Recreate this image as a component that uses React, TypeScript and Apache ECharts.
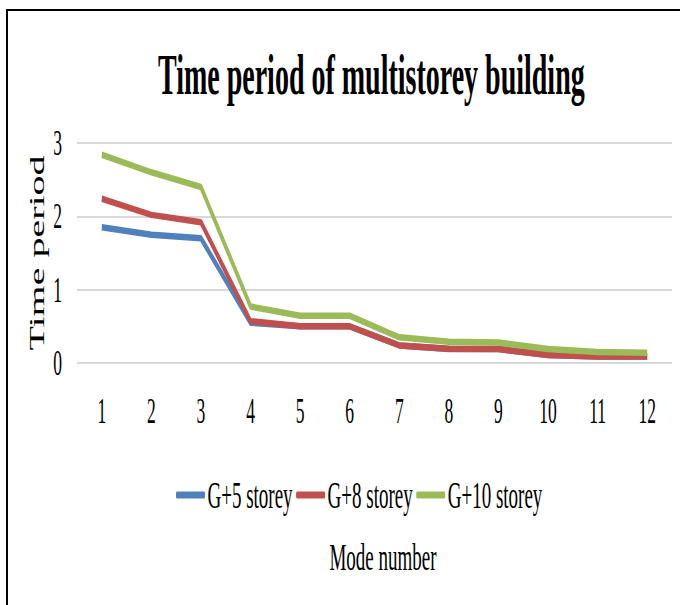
import React, { useEffect, useRef } from "react";
import * as echarts from "echarts";

const modes = ["1", "2", "3", "4", "5", "6", "7", "8", "9", "10", "11", "12"];
const g5 = [1.85, 1.75, 1.7, 0.55, 0.5, 0.5, 0.24, 0.19, 0.19, 0.11, 0.09, 0.09];
const g8 = [2.24, 2.02, 1.92, 0.57, 0.5, 0.5, 0.24, 0.195, 0.19, 0.11, 0.09, 0.09];
const g10 = [2.84, 2.6, 2.4, 0.77, 0.645, 0.645, 0.35, 0.29, 0.28, 0.19, 0.15, 0.14];
const seriesNames = ["G+5 storey", "G+8 storey", "G+10 storey"];
const colors = ["#4F81BD", "#C0504D", "#9BBB59"];
const yTicks = [0, 1, 2, 3];

const SQUISH = 0.5;
const W = 680 / SQUISH;
const H = 605;
const FONT = "'Liberation Serif', 'Times New Roman', serif";

export default function App() {
  const ref = useRef<HTMLDivElement>(null);
  useEffect(() => {
    if (!ref.current) return;
    const chart = echarts.init(ref.current, undefined, { renderer: "svg" });
    const data = [g5, g8, g10];
    chart.setOption({
      animation: false,
      backgroundColor: "transparent",
      textStyle: { fontFamily: FONT, color: "#000" },
      title: {
        text: "Time period of multistorey building",
        left: 316,
        top: 48,
        padding: 0,
        textStyle: { fontFamily: FONT, fontSize: 56, fontWeight: "bold", color: "#000" },
      },
      legend: {
        data: seriesNames,
        left: 352,
        top: 476,
        padding: 0,
        icon: "roundRect",
        itemWidth: 58,
        itemHeight: 7,
        itemGap: 7,
        textStyle: { fontFamily: FONT, fontSize: 38, fontWeight: "normal", color: "#000" },
      },
      grid: { left: 154, right: 16, top: 143, bottom: 242, containLabel: false },
      xAxis: {
        type: "category",
        data: modes,
        boundaryGap: true,
        axisLine: { show: false },
        axisTick: { show: false },
        axisLabel: { fontFamily: FONT, fontSize: 35, color: "#000", margin: 30 },
      },
      yAxis: {
        type: "value",
        min: yTicks[0],
        max: yTicks[yTicks.length - 1],
        interval: 1,
        name: "Time period",
        nameLocation: "middle",
        nameRotate: 90,
        nameGap: 60,
        nameTextStyle: { fontFamily: FONT, fontSize: 40, fontWeight: "normal", color: "#000" },
        axisLine: { show: false },
        axisTick: { show: false },
        axisLabel: { fontFamily: FONT, fontSize: 35, color: "#000", margin: 30 },
        splitLine: { lineStyle: { color: "#D9D9D9", width: 2 } },
      },
      graphic: [
        {
          type: "text",
          x: 766,
          y: 557,
          style: {
            text: "Mode number",
            font: `normal 38px ${FONT}`,
            fill: "#000",
            textAlign: "center",
            textVerticalAlign: "middle",
          },
        },
      ],
      series: seriesNames.map((name, i) => ({
        name,
        type: "line",
        data: data[i],
        showSymbol: false,
        symbol: "none",
        color: colors[i],
        lineStyle: { width: 6.5, color: colors[i], join: "round" },
      })),
    });
    return () => chart.dispose();
  }, []);

  return (
    <div
      style={{
        position: "fixed",
        left: 0,
        top: 0,
        width: 680,
        height: 605,
        overflow: "hidden",
        background: "#fff",
      }}
    >
      <div
        style={{
          position: "absolute",
          left: 0,
          top: 0,
          width: W,
          height: H,
          transform: `scaleX(${SQUISH})`,
          transformOrigin: "0 0",
        }}
      >
        <div ref={ref} style={{ width: W, height: H }} />
      </div>
      <div
        style={{
          position: "absolute",
          left: 6,
          top: 9,
          width: 700,
          height: 620,
          borderTop: "2px solid #000",
          borderLeft: "2px solid #000",
          pointerEvents: "none",
        }}
      />
    </div>
  );
}
